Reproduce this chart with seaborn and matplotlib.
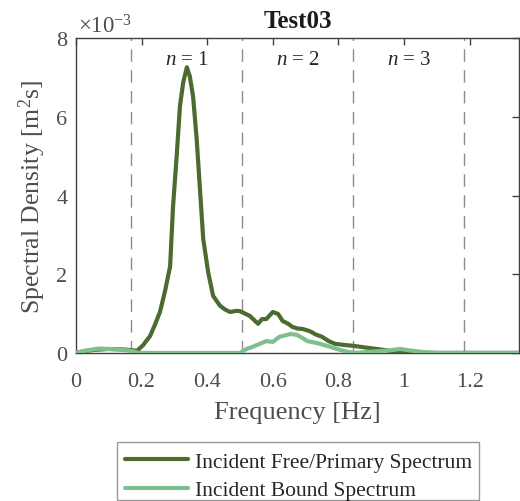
import numpy as np
import pandas as pd
import matplotlib
matplotlib.use("Agg")
import matplotlib.pyplot as plt
import matplotlib.patches as mpatches
import seaborn as sns

# values in units of 1e-3 m^2 s
freq_primary = [0.0, 0.03, 0.06, 0.10, 0.14, 0.17, 0.186, 0.205, 0.226, 0.24, 0.256, 0.271, 0.287,
                0.296, 0.307, 0.317, 0.327, 0.338, 0.347, 0.357, 0.368, 0.378, 0.388, 0.403, 0.418,
                0.439, 0.455, 0.47, 0.49, 0.50, 0.515, 0.53, 0.555, 0.567, 0.58, 0.59, 0.60, 0.616,
                0.63, 0.645, 0.66, 0.675, 0.69, 0.71, 0.72, 0.73, 0.75, 0.77, 0.79, 0.82, 0.845,
                0.88, 0.917, 0.95, 0.97, 1.0, 1.1, 1.2, 1.35]
spec_primary = [0.0, 0.05, 0.08, 0.10, 0.09, 0.07, 0.05, 0.20, 0.43, 0.70, 1.04, 1.55, 2.2,
                3.73, 5.0, 6.27, 6.88, 7.26, 7.03, 6.52, 5.43, 4.16, 2.89, 2.05, 1.45,
                1.2, 1.1, 1.04, 1.07, 1.06, 1.0, 0.94, 0.74, 0.86, 0.86, 0.95, 1.04, 0.99,
                0.81, 0.75, 0.66, 0.62, 0.61, 0.56, 0.52, 0.47, 0.41, 0.30, 0.23, 0.20, 0.18,
                0.14, 0.10, 0.06, 0.03, 0.01, 0.0, 0.0, 0.0]

freq_bound = [0.0, 0.03, 0.07, 0.10, 0.14, 0.17, 0.19, 0.25, 0.35, 0.45, 0.50, 0.52, 0.54,
              0.56, 0.58, 0.60, 0.62, 0.64, 0.653, 0.673, 0.69, 0.705, 0.735, 0.765, 0.795,
              0.826, 0.85, 0.90, 0.95, 0.988, 1.02, 1.06, 1.1, 1.2, 1.35]
spec_bound = [0.0, 0.06, 0.11, 0.10, 0.08, 0.05, 0.0, 0.0, 0.0, 0.0, 0.0, 0.10, 0.16,
              0.23, 0.30, 0.28, 0.41, 0.45, 0.48, 0.46, 0.38, 0.30, 0.25, 0.18, 0.10,
              0.03, 0.0, 0.03, 0.06, 0.10, 0.06, 0.02, 0.0, 0.0, 0.0]

band_edges = [0.169, 0.507, 0.845, 1.183]
band_labels = ["$n$ = 1", "$n$ = 2", "$n$ = 3"]
series_names = ["Incident Free/Primary Spectrum", "Incident Bound Spectrum"]
colors = ["#4b6b2f", "#7fbf8e"]

sns.set_style("white")
plt.rcParams["font.family"] = ["Liberation Serif", "DejaVu Serif"]
plt.rcParams["mathtext.fontset"] = "custom"
plt.rcParams["mathtext.rm"] = "Liberation Serif"
plt.rcParams["mathtext.it"] = "Liberation Serif:italic"

df = pd.concat([
    pd.DataFrame({"f": freq_primary, "S": spec_primary, "series": series_names[0]}),
    pd.DataFrame({"f": freq_bound, "S": spec_bound, "series": series_names[1]}),
])

fig = plt.figure(figsize=(5.2, 5.02), dpi=100)
ax = fig.add_axes([0.146, 0.295, 0.852, 0.627])

for x in band_edges:
    ax.axvline(x, color="#8c8c8c", lw=1.0, ls=(0, (9, 6)), zorder=1)

sns.lineplot(data=df, x="f", y="S", hue="series", palette=colors, lw=3.0,
             ax=ax, legend=False, sort=False, zorder=3)

for i, lab in enumerate(band_labels):
    xc = (band_edges[i] + band_edges[i + 1]) / 2
    ax.text(xc, 7.45, lab, ha="center", va="center", fontsize=15, color="#262626")

ax.set_xlim(0, 1.35)
ax.set_ylim(0, 8)
ax.set_xticks([0, 0.2, 0.4, 0.6, 0.8, 1.0, 1.2])
ax.set_xticklabels(["0", "0.2", "0.4", "0.6", "0.8", "1", "1.2"])
ax.set_yticks([0, 2, 4, 6, 8])
ax.tick_params(direction="in", length=5, width=1, colors="#404040", labelsize=16,
               top=True, right=True)
ax.tick_params(axis="x", pad=14)
ax.tick_params(axis="y", pad=6)
ax.tick_params(axis="both", labelcolor="#4d4d4d")
for s in ax.spines.values():
    s.set_color("#404040")
    s.set_linewidth(1.0)

ax.set_xlabel("Frequency [Hz]", fontsize=19, color="#4d4d4d", labelpad=7)
ax.set_ylabel("Spectral Density [m$^{2}$s]", fontsize=18.5, color="#4d4d4d", labelpad=6)
ax.set_title("Test03", fontsize=18, fontweight="bold", color="#1a1a1a", pad=8)
ax.text(0.005, 1.019, "×10$^{\\mathregular{-3}}$", transform=ax.transAxes, ha="left",
        va="baseline", fontsize=16.5, color="#4d4d4d")

# legend frame drawn separately so the entries can sit as in the reference
fig.patches.append(mpatches.Rectangle((0.225, 0.002), 0.696, 0.1155, transform=fig.transFigure,
                                      facecolor="white", edgecolor="#999999", lw=1.0, zorder=0))
handles = [plt.Line2D([], [], color=c, lw=3.0) for c in colors]
leg = fig.legend(handles, series_names, loc="center", bbox_to_anchor=(0.574, 0.050),
                 fontsize=15.5, frameon=False, handlelength=2.9, handletextpad=0.33,
                 borderpad=0.0, labelspacing=0.4, borderaxespad=0.0)
for t in leg.get_texts():
    t.set_color("#262626")

fig.savefig("out.png", dpi=100)
